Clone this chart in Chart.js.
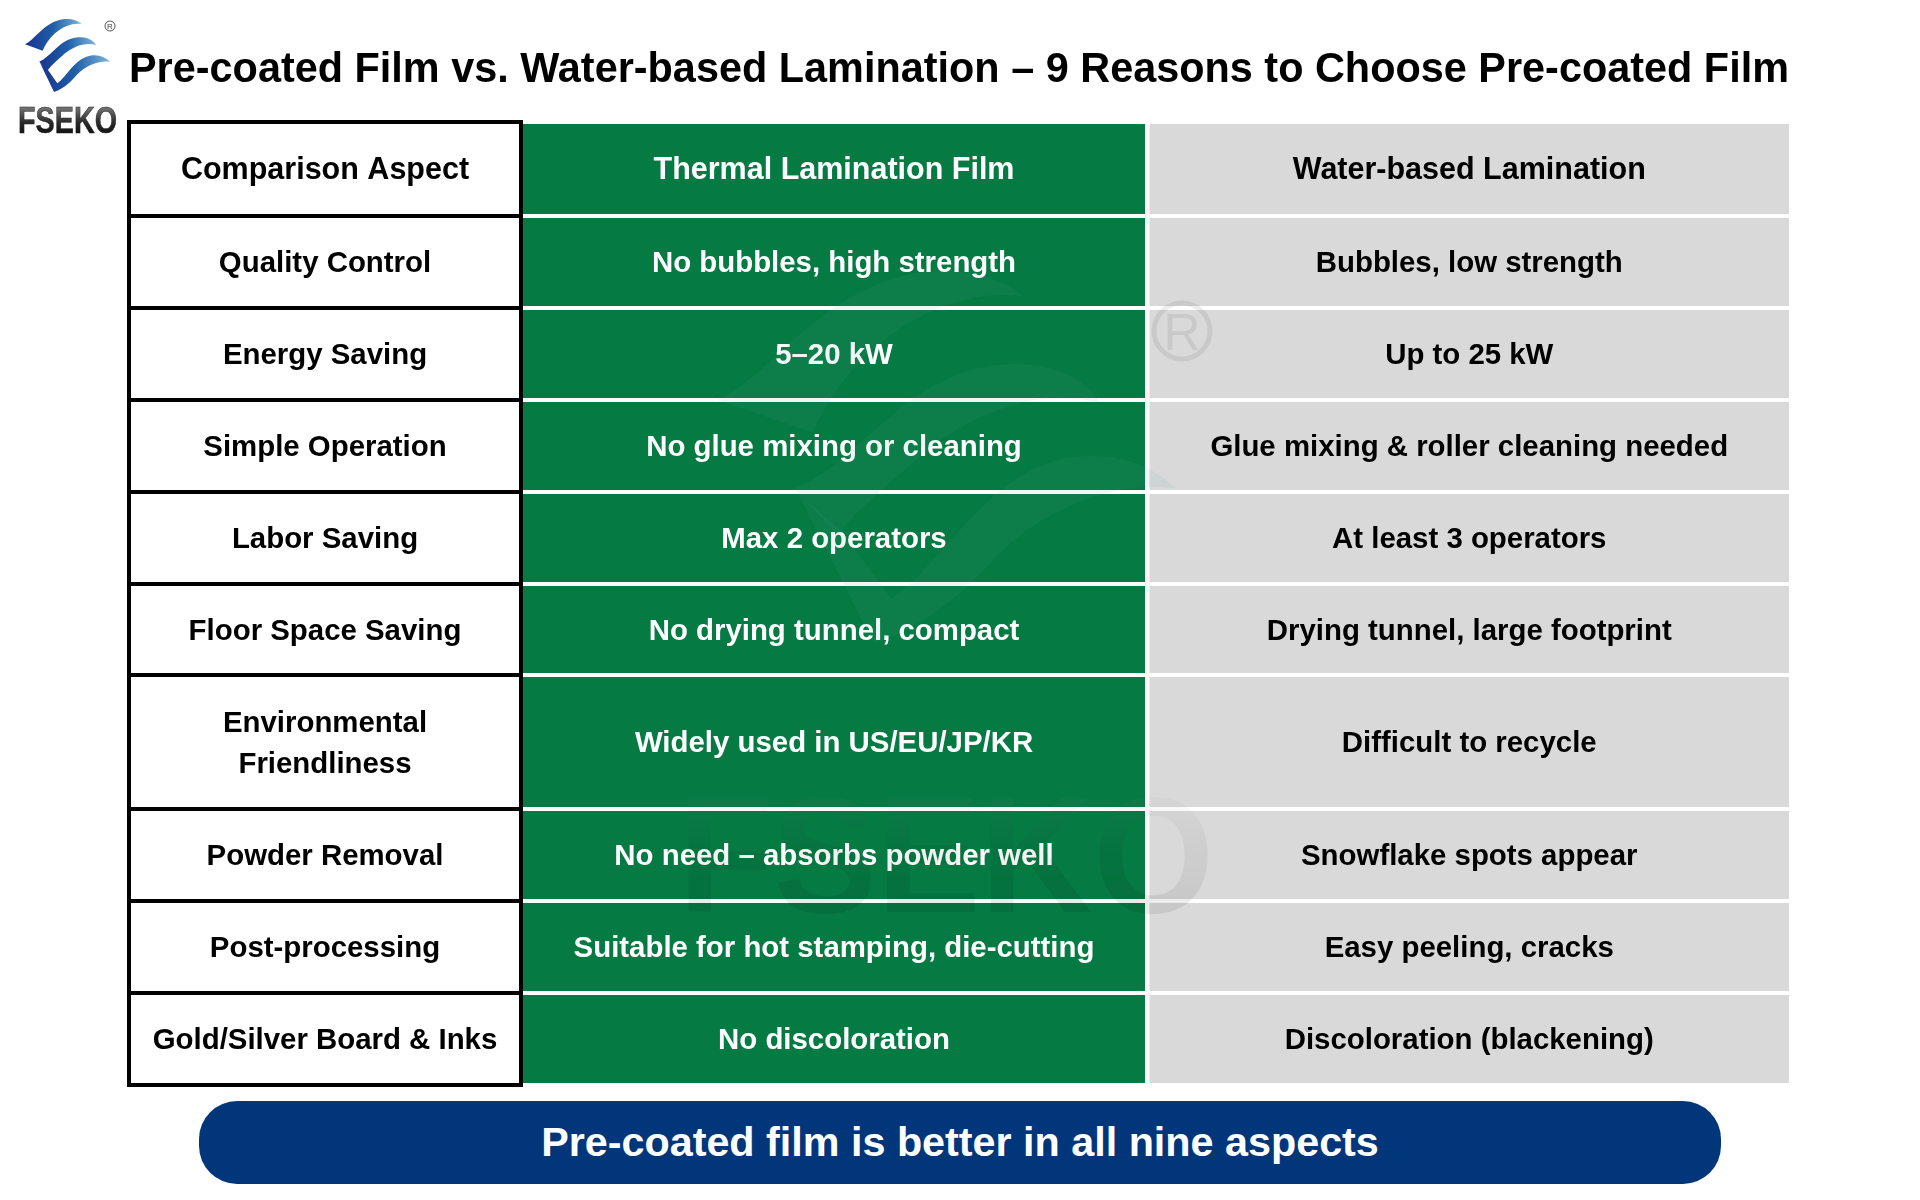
<!DOCTYPE html>
<html lang="en">
<head>
  <meta charset="UTF-8" />
  <title>Pre-coated Film vs. Water-based Lamination</title>
  <script src="https://cdn.jsdelivr.net/npm/chart.js@4"></script>
  <style>
    body {
      margin: 0;
      background: #fff;
      font-family: "Liberation Sans", Arial, sans-serif;
    }
    #page {
      position: relative;
      width: 1920px;
      height: 1200px;
      overflow: hidden;
    }
    #tableChart {
      position: absolute;
      left: 0;
      top: 0;
    }
    svg {
      position: absolute;
      left: 0;
      top: 0;
      pointer-events: none;
    }
    #banner {
      position: absolute;
      left: 199px;
      top: 1101px;
      width: 1522px;
      height: 83px;
      line-height: 83px;
      border-radius: 38px;
      background: #02367b;
      color: #fff;
      text-align: center;
      font-weight: bold;
      font-size: 41.3px;
    }
  </style>
</head>
<body>
<div id="page">
  <canvas id="tableChart" width="1920" height="1200"></canvas>

  <svg width="1920" height="1200" viewBox="0 0 1920 1200">
    <defs>
      <linearGradient id="blue" x1="0" y1="0" x2="1" y2="0">
        <stop offset="0" stop-color="#17338c"/>
        <stop offset="0.5" stop-color="#1f5fa8"/>
        <stop offset="1" stop-color="#7fb6d8"/>
      </linearGradient>
      <linearGradient id="steel" x1="0" y1="0" x2="0" y2="1">
        <stop offset="0" stop-color="#9a9a9a"/>
        <stop offset="0.55" stop-color="#2a2a2a"/>
        <stop offset="1" stop-color="#000"/>
      </linearGradient>
      <linearGradient id="wmText" x1="0" y1="0" x2="0" y2="1">
        <stop offset="0" stop-color="#fff" stop-opacity="0.05"/>
        <stop offset="0.5" stop-color="#000" stop-opacity="0.05"/>
        <stop offset="1" stop-color="#000" stop-opacity="0.1"/>
      </linearGradient>
      <g id="swoosh">
        <path d="M45 103 C75 90 105 32 165 27 C185 26 205 32 215 42 C190 38 160 48 135 70 C118 85 105 105 98 122 Z"/>
        <path d="M88 155 C125 140 150 85 205 82 C230 80 250 90 258 105 C225 95 190 110 165 130 C145 148 125 165 112 182 Z"/>
        <path d="M90 158 L132 246 C165 235 185 212 200 195 C225 168 265 150 300 155 C285 140 265 133 240 137 C195 145 170 200 142 220 L114 180 Z"/>
      </g>
    </defs>

    <!-- watermark -->
    <use href="#swoosh" transform="translate(636 225) scale(1.8 1.7)" fill="#5aa39a" fill-opacity="0.09"/>
    <circle cx="1182" cy="331" r="28" fill="none" stroke="#000" stroke-opacity="0.07" stroke-width="5"/>
    <text x="1182" y="350" text-anchor="middle" font-size="52" fill="#000" fill-opacity="0.07">R</text>
    <text x="678" y="912" textLength="536" lengthAdjust="spacingAndGlyphs" font-size="165" font-weight="bold" fill="url(#wmText)">FSEKO</text>

    <!-- logo -->
    <use href="#swoosh" transform="translate(10 10) scale(0.3333)" fill="url(#blue)"/>
    <circle cx="110" cy="26" r="5" fill="none" stroke="#444" stroke-width="0.9"/>
    <text x="110" y="29" text-anchor="middle" font-size="8" fill="#444">R</text>
    <text x="18" y="133" textLength="99" lengthAdjust="spacingAndGlyphs" font-size="36" font-weight="bold" fill="url(#steel)" stroke="#222" stroke-width="0.5">FSEKO</text>
  </svg>

  <div id="banner">Pre-coated film is better in all nine aspects</div>
</div>

<script>
  const pageTitle = "Pre-coated Film vs. Water-based Lamination – 9 Reasons to Choose Pre-coated Film";

  const aspects = [
    "Comparison Aspect", "Quality Control", "Energy Saving", "Simple Operation", "Labor Saving",
    "Floor Space Saving", ["Environmental", "Friendliness"], "Powder Removal", "Post-processing",
    "Gold/Silver Board & Inks"
  ];
  const thermalFilm = [
    "Thermal Lamination Film", "No bubbles, high strength", "5–20 kW", "No glue mixing or cleaning",
    "Max 2 operators", "No drying tunnel, compact", "Widely used in US/EU/JP/KR",
    "No need – absorbs powder well", "Suitable for hot stamping, die-cutting", "No discoloration"
  ];
  const waterBased = [
    "Water-based Lamination", "Bubbles, low strength", "Up to 25 kW", "Glue mixing & roller cleaning needed",
    "At least 3 operators", "Drying tunnel, large footprint", "Difficult to recycle",
    "Snowflake spots appear", "Easy peeling, cracks", "Discoloration (blackening)"
  ];

  // table structure
  const rowHeights = [94, 92, 92, 92, 92, 91, 134, 92, 92, 92];
  const columnWidths = [394, 624, 642];

  const columns = [aspects, thermalFilm, waterBased];
  const columnFill = ["#ffffff", "#067a43", "#d9d9d9"];
  const columnText = ["#000000", "#ffffff", "#000000"];
  const ruleWidth = 4;

  // row centres and column edges on the value scales
  let rowEdge = 0;
  const rowCentres = rowHeights.map(h => {
    const c = rowEdge + h / 2;
    rowEdge += h;
    return c;
  });
  const tableHeight = rowEdge;
  const columnEdges = columnWidths.reduce((acc, w) => acc.concat(acc[acc.length - 1] + w), [0]);

  function cellRange(col) {
    if (col === 0) return [-ruleWidth / 2, columnEdges[1]];
    if (col === 1) return [columnEdges[1], columnEdges[2] - 2];
    return [columnEdges[2] + 2.5, columnEdges[3]];
  }

  const datasets = [];
  columns.forEach((column, col) => {
    column.forEach((label, row) => {
      datasets.push({
        label: Array.isArray(label) ? label.join(" ") : label,
        data: [{ x: cellRange(col), y: rowCentres[row] }],
        backgroundColor: columnFill[col],
        borderColor: col === 0 ? "#000000" : columnFill[col],
        borderWidth: col === 0 ? ruleWidth : 0,
        borderSkipped: false,
        barThickness: col === 0 ? rowHeights[row] + ruleWidth : rowHeights[row] - ruleWidth,
        grouped: false,
        inflateAmount: 0,
        clip: false
      });
    });
  });

  // cell texts, placed through the chart's scales
  const cellTextPlugin = {
    id: "cellText",
    afterDatasetsDraw(chart) {
      const { ctx, scales } = chart;
      ctx.save();
      ctx.textAlign = "center";
      ctx.textBaseline = "middle";
      columns.forEach((column, col) => {
        const range = cellRange(col);
        const x = (scales.x.getPixelForValue(range[0]) + scales.x.getPixelForValue(range[1])) / 2;
        ctx.fillStyle = columnText[col];
        column.forEach((label, row) => {
          // the header row is set a little larger
          ctx.font = "bold " + (row === 0 ? 30.5 : 29.4) + "px 'Liberation Sans', Arial, sans-serif";
          const y = scales.y.getPixelForValue(rowCentres[row]);
          const lines = Array.isArray(label) ? label : [label];
          lines.forEach((line, i) => {
            ctx.fillText(line, x, y + (i - (lines.length - 1) / 2) * 41 + 2);
          });
        });
      });
      ctx.restore();
    }
  };

  new Chart(document.getElementById("tableChart"), {
    type: "bar",
    data: { datasets: datasets },
    options: {
      indexAxis: "y",
      responsive: false,
      animation: false,
      layout: { padding: { left: 129, right: 131, top: 0, bottom: 115 } },
      scales: {
        x: { type: "linear", min: 0, max: columnEdges[3], display: false },
        y: { type: "linear", min: 0, max: tableHeight, reverse: true, offset: false, display: false }
      },
      plugins: {
        legend: { display: false },
        tooltip: { enabled: false },
        title: {
          display: true,
          text: pageTitle,
          color: "#000000",
          font: { family: "'Liberation Sans', Arial, sans-serif", size: 42.7, weight: "bold", lineHeight: 1.2 },
          padding: { top: 45, bottom: 25.8 }
        }
      }
    },
    plugins: [cellTextPlugin]
  });
</script>
</body>
</html>
